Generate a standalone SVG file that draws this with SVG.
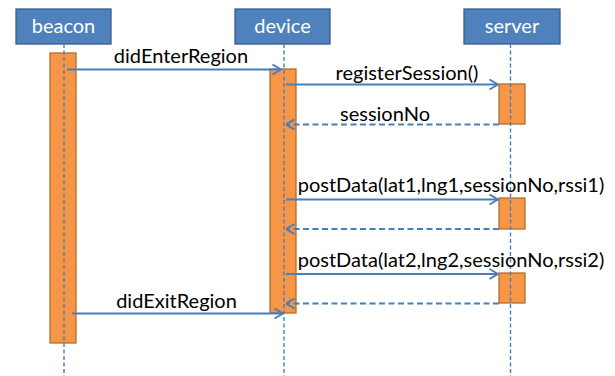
<svg xmlns="http://www.w3.org/2000/svg" width="615" height="376" viewBox="0 0 615 376">
  <defs>
    <marker id="open" viewBox="0 0 10 12" refX="9.5" refY="6" markerWidth="10" markerHeight="12" markerUnits="userSpaceOnUse" orient="auto">
      <path d="M1,1 L9.5,6 L1,11" fill="none" stroke="#4A7EBB" stroke-width="2"/>
    </marker>
  </defs>
  <style>
    .head rect { fill: #4F81BD; stroke: #385D8A; stroke-width: 1.3; }
    .head text { fill: #FFFFFF; font-family: Lato, "Liberation Sans", sans-serif; font-size: 20px; text-anchor: middle; }
    .act { fill: #F79646; stroke: #B66D31; stroke-width: 1.3; }
    .life { stroke: #4A7EBB; stroke-width: 1.4; stroke-dasharray: 4 2.5; fill: none; }
    .msg { stroke: #4A7EBB; stroke-width: 2; fill: none; marker-end: url(#open); }
    .ret { stroke-dasharray: 6 3.5; }
    .lbl { fill: #000000; font-family: Lato, "Liberation Sans", sans-serif; font-size: 20px; text-anchor: middle; }
  </style>

  <!-- participants -->
  <g id="beacon" class="head">
    <rect x="16" y="9" width="95" height="35"/>
    <text x="63.5" y="33">beacon</text>
  </g>
  <g id="device" class="head">
    <rect x="235" y="9" width="95" height="35"/>
    <text x="282.5" y="33">device</text>
  </g>
  <g id="server" class="head">
    <rect x="464" y="9" width="96" height="35"/>
    <text x="512" y="33">server</text>
  </g>

  <!-- activation bars -->
  <g id="beacon-activation">
    <rect class="act" x="50" y="53" width="26" height="290"/>
  </g>
  <g id="device-activation">
    <rect class="act" x="270" y="69" width="26" height="244"/>
  </g>
  <g id="server-activation-1">
    <rect class="act" x="499" y="84" width="26" height="40"/>
  </g>
  <g id="server-activation-2">
    <rect class="act" x="499" y="198" width="26" height="31"/>
  </g>
  <g id="server-activation-3">
    <rect class="act" x="499" y="273" width="26" height="30"/>
  </g>

  <!-- lifelines -->
  <g id="lifelines">
    <line class="life" x1="64" y1="44" x2="64" y2="376"/>
    <line class="life" x1="284" y1="44" x2="284" y2="376"/>
    <line class="life" x1="510.5" y1="44" x2="510.5" y2="376"/>
  </g>

  <!-- messages -->
  <g id="connectors">
    <line class="msg" x1="67" y1="69.5" x2="281" y2="69.5"/>
    <line class="msg" x1="286" y1="84.5" x2="498" y2="84.5"/>
    <line class="msg ret" x1="499" y1="124.5" x2="286" y2="124.5"/>
    <line class="msg" x1="286" y1="199.5" x2="498" y2="199.5"/>
    <line class="msg ret" x1="499" y1="229" x2="286" y2="229"/>
    <line class="msg" x1="286" y1="274" x2="498" y2="274"/>
    <line class="msg ret" x1="499" y1="303.5" x2="286" y2="303.5"/>
    <line class="msg" x1="72" y1="313.5" x2="283" y2="313.5"/>
  </g>

  <!-- message labels -->
  <g id="labels">
    <text class="lbl" x="181" y="63">didEnterRegion</text>
    <text class="lbl" x="407" y="80">registerSession()</text>
    <text class="lbl" x="385" y="121">sessionNo</text>
    <text class="lbl" x="451" y="192">postData(lat1,lng1,sessionNo,rssi1)</text>
    <text class="lbl" x="451" y="267">postData(lat2,lng2,sessionNo,rssi2)</text>
    <text class="lbl" x="176.5" y="308">didExitRegion</text>
  </g>
</svg>
